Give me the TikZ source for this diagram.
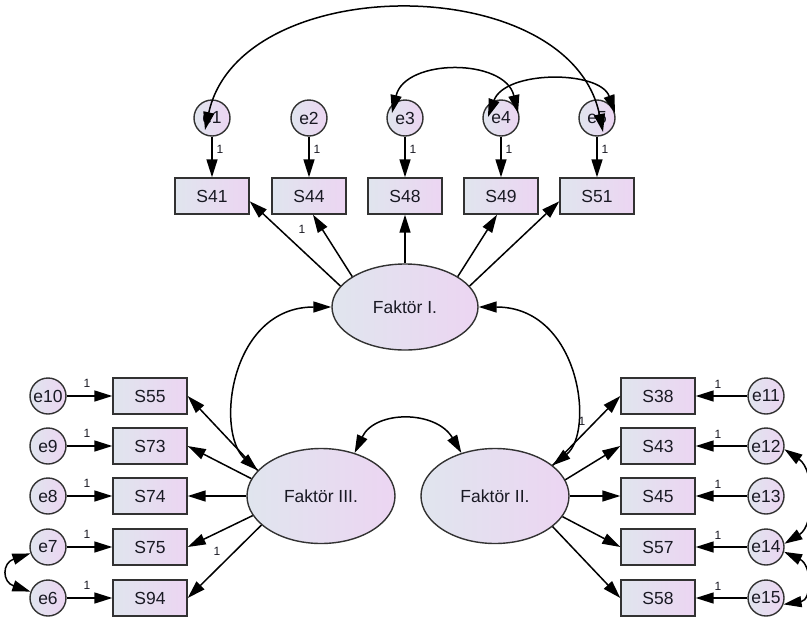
\documentclass[tikz,border=0pt]{standalone}
\usepackage{fontspec}
\setmainfont{Liberation Sans}
\usetikzlibrary{shapes.geometric,arrows.meta}
\definecolor{fillL}{RGB}{224,229,238}
\definecolor{fillR}{RGB}{236,213,242}
\definecolor{edge}{RGB}{50,50,50}
\definecolor{txt}{RGB}{25,25,35}
\begin{document}
\begin{tikzpicture}[x=1pt,y=-1pt,
 base/.style={draw=edge,line width=1.4pt,left color=fillL,right color=fillR,inner sep=0pt,text=txt,font=\fontsize{17.5}{20}\selectfont},
 obs/.style={base,rectangle,minimum width=74pt,minimum height=36pt},
 err/.style={base,circle,minimum size=36pt},
 lat/.style={base,ellipse,minimum width=146pt,minimum height=86pt},
 arr/.style={-{Triangle[length=18pt,width=11pt]},line width=1.5pt},
 darr/.style={{Triangle[length=18pt,width=11pt]}-{Triangle[length=18pt,width=11pt]},line width=1.5pt},
 one/.style={font=\fontsize{12}{14}\selectfont,inner sep=0pt,text=txt}]
\useasboundingbox (0,0) rectangle (807,619);

% top error terms and items
\foreach \n/\s/\x in {1/41/212,2/44/309,3/48/405,4/49/501,5/51/597}{
  \node[err] (e\n) at (\x,118) {e\n};
  \node[obs] (S\s) at (\x,196) {S\s};
  \draw[arr] (e\n) -- (S\s);
  \node[one] at (\x+8,149) {1};
}

% factors
\node[lat] (F1) at (405,307) {Faktör I.};
\node[lat,minimum width=148pt,minimum height=95pt] (F3) at (321,496) {Faktör III.};
\node[lat,minimum width=148pt,minimum height=95pt] (F2) at (495,496) {Faktör II.};

% left items
\foreach \n/\s/\y in {10/55/396,9/73/446,8/74/496,7/75/547,6/94/598}{
  \node[err] (e\n) at (48,\y) {e\n};
  \node[obs] (S\s) at (150,\y) {S\s};
  \draw[arr] (e\n) -- (S\s);
  \node[one] at (87,\y-13) {1};
}
% right items
\foreach \n/\s/\y in {11/38/396,12/43/446,13/45/496,14/57/547,15/58/598}{
  \node[err] (e\n) at (766,\y) {e\n};
  \node[obs] (S\s) at (658,\y) {S\s};
  \draw[arr] (e\n) -- (S\s);
  \node[one] at (718,\y-12) {1};
}

% loadings Faktor I
\draw[arr] (F1.162) -- (S41.-8);
\draw[arr] (F1.150) -- (S44.-78);
\draw[arr] (F1.north) -- (S48.south);
\draw[arr] (F1.30) -- (S49.-102);
\draw[arr] (F1.18) -- (S51.188);
\node[one] at (302,229) {1};

% loadings Faktor III
\draw[arr] (F3.158) -- (S55.east);
\draw[arr] (F3.166) -- (S73.east);
\draw[arr] (F3.180) -- (S74.east);
\draw[arr] (F3.196) -- (S75.east);
\draw[arr] (F3.206) -- (S94.east);
\node[one] at (217,551) {1};

% loadings Faktor II
\draw[arr] (F2.28) -- (S38.west);
\draw[arr] (F2.13) -- (S43.west);
\draw[arr] (F2.0) -- (S45.west);
\draw[arr] (F2.-17) -- (S57.west);
\draw[arr] (F2.-28) -- (S58.west);
\node[one] at (582,421) {1};

% factor covariances
\draw[darr] (F1.west) .. controls (230,307) and (215,432) .. (F3.158);
\draw[darr] (F1.east) .. controls (580,307) and (595,432) .. (F2.28);
\draw[darr] (F3.52) .. controls (375,410) and (436,410) .. (F2.128);

% error covariances (top)
\coordinate (t1) at (205,130);
\coordinate (t5) at (603,132);
\draw[darr] (t1) .. controls (240,-30) and (570,-30) .. (t5);
\coordinate (t3) at (392,113);
\coordinate (t4) at (518,113);
\draw[darr] (t3) .. controls (405,58) and (505,58) .. (t4);
\coordinate (u4) at (488,117);
\coordinate (u5) at (615,113);
\draw[darr] (u4) .. controls (505,70) and (600,70) .. (u5);

% error covariances (left)
\draw[darr] (e7.200) .. controls (2,563) and (2,582) .. (e6.160);
% error covariances (right)
\draw[darr] (e12.-10) .. controls (815,470) and (815,525) .. (e14.10);
\draw[darr] (e14.-15) .. controls (812,565) and (812,600) .. (e15.-20);
\end{tikzpicture}
\end{document}
